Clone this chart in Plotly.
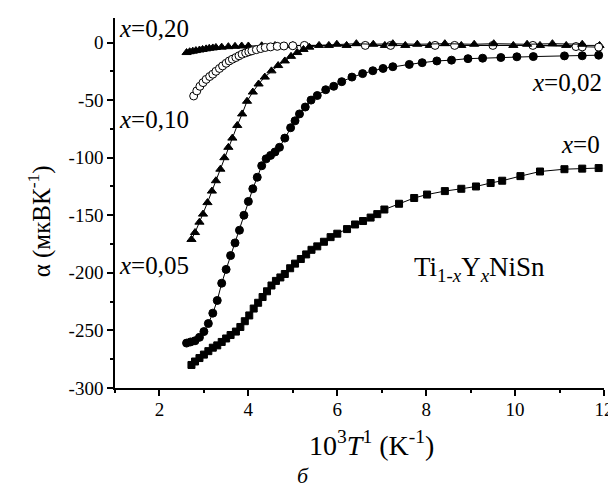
import plotly.graph_objects as go

# ---- data ----
x0_x = [2.72, 2.8, 2.9, 3.0, 3.1, 3.2, 3.3, 3.4, 3.5, 3.6, 3.72, 3.82, 3.92, 4.02, 4.12, 4.22,
        4.32, 4.42, 4.52, 4.62, 4.72, 4.82, 4.94, 5.05, 5.18, 5.3, 5.42, 5.55, 5.7, 5.85, 6.0,
        6.22, 6.4, 6.58, 6.75, 6.9, 7.06, 7.39, 7.73, 8.02, 8.42, 8.79, 9.12, 9.45, 9.71,
        10.12, 10.56, 11.11, 11.51, 11.88]
x0_y = [-280, -277, -274, -271, -268, -265, -263, -260, -257, -254, -251, -247, -242, -237,
        -231, -226, -221, -216, -211, -207, -204, -201, -196, -192, -188, -184, -180, -177,
        -173, -169, -166, -162, -158, -155, -152, -149, -145, -140, -135, -132, -129, -127,
        -125, -122, -120, -116, -112, -110, -109.5, -109]

x02_x = [2.61, 2.7, 2.8, 2.9, 3.0, 3.1, 3.2, 3.3, 3.4, 3.5, 3.6, 3.7, 3.8, 3.9, 4.0, 4.1, 4.2,
         4.3, 4.4, 4.5, 4.6, 4.7, 4.82, 4.95, 5.05, 5.15, 5.28, 5.41, 5.55, 5.74, 5.92, 6.1,
         6.33, 6.57, 6.8, 7.03, 7.25, 7.62, 7.91, 8.24, 8.57, 8.94, 9.27, 9.68, 10.04, 10.41,
         11.11, 11.51, 11.88]
x02_y = [-261, -260, -259, -256, -251, -244, -235, -224, -209, -197, -185, -174, -163, -150,
         -138, -127, -117, -107, -101, -98, -95, -91, -83, -74, -68, -62, -56, -50, -46, -41,
         -38, -34, -30, -27, -24.5, -22.5, -21, -19, -17.5, -16, -15.3, -14, -13.6, -13,
         -12.4, -12.2, -11.6, -11.5, -11]

x05_x = [2.72, 2.8, 2.9, 2.98, 3.08, 3.18, 3.27, 3.37, 3.46, 3.55, 3.64, 3.75, 3.86, 3.97,
         4.1, 4.23, 4.37, 4.52, 4.67, 4.82, 4.96, 5.1, 5.24, 5.37, 5.59, 5.99, 6.43, 6.81,
         7.25, 7.8, 8.42, 9.08, 9.52, 10.27, 10.84, 11.51]
x05_y = [-171, -165, -156, -149, -139, -129, -120, -110, -100, -91, -83, -72, -62, -51, -43,
         -36, -30, -24.6, -20, -16, -12, -8.7, -6, -4, -2.5, -1.5, -1, -1.5, -1, -1.5, -1,
         -1.5, -1, -1.5, -1, -1.5]

x10_x = [2.77, 2.84, 2.91, 2.98, 3.05, 3.13, 3.2, 3.27, 3.35, 3.42, 3.5, 3.57, 3.64, 3.72,
         3.79, 3.86, 3.94, 4.01, 4.08, 4.18, 4.28, 4.38, 4.5, 4.65, 4.8, 5.0, 5.26, 6.63, 7.2,
         8.2, 8.64, 9.5, 10.4, 11.37, 11.51, 11.88]
x10_y = [-46.4, -42, -38, -34.8, -32, -29.5, -27.5, -25, -22.5, -20.3, -18, -16, -14.5, -13,
         -11.5, -10.1, -9, -8, -7.2, -6.2, -5.2, -4.3, -3.8, -3.3, -3, -2.8, -2.5, -2.5, -2.5,
         -2.5, -2.5, -2.5, -2.5, -3.5, -3.8, -4]

x20_x = [2.61, 2.68, 2.75, 2.82, 2.9, 2.97, 3.05, 3.12, 3.2, 3.27, 3.4, 3.55, 3.7, 3.85, 4.0,
         4.3, 4.6, 5.0, 5.81, 6.21, 7.07, 7.53, 8.08, 8.79, 9.96, 10.56, 11.15, 11.9]
x20_y = [-8.7, -8, -7.5, -7, -6.5, -6, -5.5, -5, -4.7, -4.3, -4, -3.6, -3.3, -3, -3, -2.8,
         -2.6, -2.5, -2.5, -2.5, -2.5, -2.5, -2.5, -2.5, -2.5, -2.5, -2.5, -2.5]

y_tick_vals = [-300, -250, -200, -150, -100, -50, 0]
y_tick_text = ["-300", "-250", "-200", "-150", "-100", "-50", "0"]
x_tick_vals = [2, 4, 6, 8, 10, 12]
x_tick_text = ["2", "4", "6", "8", "10", "12"]

FONT = "Liberation Serif"

fig = go.Figure()


def add(xs, ys, symbol, fill="black", size=8):
    fig.add_trace(go.Scatter(
        x=xs, y=ys, mode="lines+markers",
        line=dict(color="black", width=1),
        marker=dict(symbol=symbol, size=size, color=fill,
                    line=dict(color="black", width=1)),
        showlegend=False, cliponaxis=False))


add(x20_x, x20_y, "triangle-up")
add(x10_x, x10_y, "circle", fill="white", size=8)
add(x05_x, x05_y, "triangle-up")
add(x02_x, x02_y, "circle")
add(x0_x, x0_y, "square", size=7)

ann_font = dict(family=FONT, size=25, color="black")
annotations = [
    dict(x=0.005, y=0.972, xref="paper", yref="paper", text="<i>x</i>=0,20", xanchor="left",
         yanchor="middle", showarrow=False, font=ann_font),
    dict(x=0.005, y=0.725, xref="paper", yref="paper", text="<i>x</i>=0,10", xanchor="left",
         yanchor="middle", showarrow=False, font=ann_font),
    dict(x=0.005, y=0.33, xref="paper", yref="paper", text="<i>x</i>=0,05", xanchor="left",
         yanchor="middle", showarrow=False, font=ann_font),
    dict(x=1.0, y=0.825, xref="paper", yref="paper", text="<i>x</i>=0,02", xanchor="right",
         yanchor="middle", showarrow=False, font=ann_font),
    dict(x=0.996, y=0.657, xref="paper", yref="paper", text="<i>x</i>=0", xanchor="right",
         yanchor="middle", showarrow=False, font=ann_font),
    dict(x=9.21, y=-197, xref="x", yref="y",
         text="Ti<sub>1-<i>x</i></sub>Y<sub><i>x</i></sub>NiSn", xanchor="center",
         yanchor="middle", showarrow=False, font=dict(family=FONT, size=27, color="black")),
    # axis titles
    dict(x=-0.155, y=0.451, xref="paper", yref="paper", text="α (мкВК<sup>-1</sup>)",
         textangle=-90, xanchor="center", yanchor="middle", showarrow=False,
         font=dict(family=FONT, size=25, color="black")),
    dict(x=0.525, y=-0.15, xref="paper", yref="paper",
         text="10<sup>3</sup><i>T</i><sup>1</sup> (K<sup>-1</sup>)",
         xanchor="center", yanchor="middle", showarrow=False,
         font=dict(family=FONT, size=28, color="black")),
    dict(x=0.3835, y=-0.236, xref="paper", yref="paper", text="<i>б</i>",
         xanchor="center", yanchor="middle", showarrow=False,
         font=dict(family=FONT, size=22, color="black")),
]

axis_common = dict(showline=True, linecolor="black", linewidth=1.5, ticks="outside",
                   ticklen=6, tickwidth=1.5, tickcolor="black", showgrid=False,
                   zeroline=False, mirror=False,
                   tickfont=dict(family=FONT, size=19, color="black"))

fig.update_xaxes(range=[1, 12], tickvals=x_tick_vals, ticktext=x_tick_text,
                 ticklabelstandoff=-3,
                 minor=dict(ticks="outside", ticklen=3, tickwidth=1.5, tickcolor="black",
                            dtick=1, tick0=1, showgrid=False),
                 **axis_common)
fig.update_yaxes(range=[-300, 21.3], tickvals=y_tick_vals, ticktext=y_tick_text,
                 minor=dict(ticks="outside", ticklen=3, tickwidth=1.5, tickcolor="black",
                            dtick=25, tick0=-300, showgrid=False),
                 **axis_common)

fig.update_layout(width=616, height=487,
                  margin=dict(l=107, r=11, t=10, b=107),
                  paper_bgcolor="white", plot_bgcolor="white",
                  font=dict(family=FONT, color="black"),
                  annotations=annotations)

fig.write_html("out.html")
